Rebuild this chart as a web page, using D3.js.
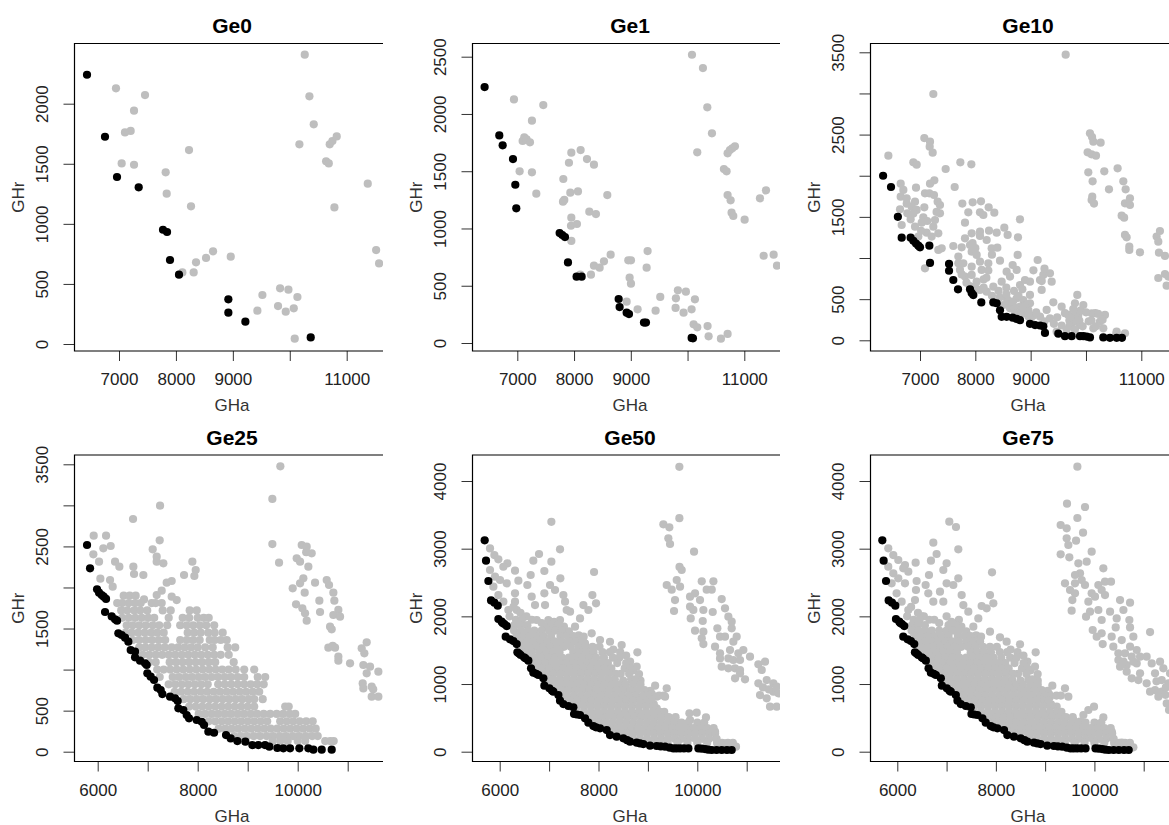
<!DOCTYPE html>
<html><head><meta charset="utf-8">
<script src="https://cdn.jsdelivr.net/npm/d3@7"></script>
<style>html,body{margin:0;padding:0;background:#fff}svg{display:block}text{font-family:"Liberation Sans",Arial,sans-serif}</style>
</head><body><svg id="c" width="1169" height="825"></svg>
<script>
const titles = ["Ge0","Ge1","Ge10","Ge25","Ge50","Ge75"];

const front0 = [[6438,2241],[6754,1725],[6965,1390],[7346,1304],[7773,951],[7844,932],[7896,699],[8054,577],[8921,372],[8921,261],[9220,186],[10368,55]];
const gray0 = [[6947,2128],[7457,2072],[7264,1942],[7205,1773],[7105,1761],[7047,1503],[7264,1492],[7820,1429],[8230,1614],[7838,1251],[8265,1146],[8652,771],[8529,716],[8353,680],[8312,596],[8113,596],[8963,727],[9519,408],[9431,277],[9830,463],[9976,452],[10134,391],[9794,316],[9929,269],[10070,297],[10087,44],[10169,1662],[10263,2408],[10345,2061],[10421,1828],[10638,1520],[10685,1503],[10702,1662],[10749,1689],[10825,1728],[10784,1137],[11370,1334],[11517,782],[11569,671]];

const front1 = [[6424,2235],[6683,1813],[6742,1726],[6924,1606],[6965,1382],[6982,1176],[7746,960],[7793,943],[7840,925],[7893,704],[8045,579],[8134,579],[8786,384],[8803,314],[8927,265],[8968,253],[9232,178],[9267,178],[10072,44],[10095,41]];
const gray1 = [[6941,2127],[7458,2078],[7258,1941],[7123,1796],[7094,1764],[7164,1778],[7223,1752],[7041,1499],[7258,1490],[7335,1304],[7952,1662],[7910,1574],[8116,1685],[8228,1606],[8351,1557],[7811,1432],[7828,1249],[7805,1234],[7934,1313],[8069,1324],[8586,1292],[8269,1147],[8386,1126],[7952,1094],[7946,1024],[8051,1039],[7952,891],[8645,771],[8527,713],[8351,675],[8451,658],[8298,597],[8110,597],[9296,803],[8956,722],[9003,722],[9279,658],[8979,570],[9003,518],[8927,361],[9120,294],[9519,402],[9437,282],[9830,460],[9971,448],[9795,390],[10130,381],[9789,306],[9930,265],[10071,294],[10107,163],[10171,137],[10353,148],[10371,58],[10588,38],[10706,79],[10078,2517],[10271,2401],[10348,2058],[10430,1831],[10171,1665],[10706,1656],[10747,1685],[10788,1700],[10835,1717],[10641,1519],[10688,1499],[10706,1292],[10759,1246],[10776,1138],[10806,1109],[11006,1077],[11276,1263],[11382,1333],[11341,762],[11517,771],[11576,675]];

const front10 = [[6333,2000],[6476,1863],[6600,1500],[6669,1247],[6831,1247],[6880,1210],[6928,1175],[6970,1150],[7000,1130],[7169,1150],[7181,940],[7525,928],[7525,845],[7602,733],[7687,620],[7904,620],[7934,575],[7964,550],[8108,460],[8325,460],[8386,450],[8446,365],[8476,285],[8566,285],[8675,275],[8747,260],[8807,245],[8988,200],[9080,185],[9169,180],[9229,170],[9259,90],[9500,80],[9620,50],[9741,50],[9892,50],[9952,50],[10012,45],[10072,35],[10313,35],[10433,30],[10554,30],[10650,30]];
const gray10 = [[9633,3471],[7241,2993],[6428,2244],[7078,2458],[7181,2414],[7175,2353],[7229,2280],[6880,2163],[6940,2134],[7464,2082],[7729,2163],[7928,2138],[7627,1863],[7259,1944],[7181,1904],[6651,1904],[6699,1827],[6651,1746],[6759,1725],[6928,1855],[7090,1786],[7169,1786],[7253,1766],[7319,1685],[7361,1644],[6910,1685],[6849,1624],[6940,1584],[7078,1616],[6639,1592],[6771,1543],[6831,1470],[7060,1495],[7030,1430],[6669,1401],[6910,1381],[7361,1543],[7271,1462],[7241,1381],[7331,1300],[7120,1308],[7211,1260],[6970,1260],[7331,1098],[7392,1118],[7090,875],[7602,1146],[7753,1130],[7813,1239],[7934,1300],[8084,1320],[8084,1268],[8247,1332],[8386,1308],[8524,1369],[8584,1280],[8771,1251],[8807,1470],[7765,1661],[7952,1677],[8102,1689],[8241,1616],[8343,1551],[7873,1555],[8084,1555],[8145,1523],[7813,1430],[8205,1219],[8295,1118],[8398,1126],[7904,1158],[7934,1077],[8024,1037],[8084,956],[8235,936],[8446,968],[8765,1037],[9127,976],[8675,915],[8747,855],[7693,1017],[7693,936],[7783,936],[7934,895],[8114,855],[8235,847],[7723,855],[7813,774],[7934,794],[8024,713],[8084,612],[8205,591],[8325,652],[8476,713],[8566,834],[8627,774],[8807,672],[8898,733],[8988,713],[9169,733],[9229,794],[9349,814],[9380,713],[9199,612],[8566,510],[8747,510],[8988,551],[8867,490],[8627,429],[8807,409],[8988,449],[8958,368],[8627,389],[8506,429],[9169,288],[9349,267],[9410,462],[9560,409],[9843,551],[9801,449],[9952,429],[10102,328],[10343,308],[10253,227],[9681,308],[9801,308],[9892,186],[9741,186],[10133,146],[10313,146],[10554,105],[10705,85],[9470,105],[9289,369],
[7753,800],[7840,700],[7900,660],[8000,640],[8150,740],[8300,540],[8420,600],[8560,640],[8700,600],[8850,620],[8600,480],[8700,400],[8900,330],[8800,330],[9050,300],[9100,340],[9250,230],[9700,240],[9770,260],[9830,230],[9860,300],[9900,360],[9770,380],[9700,170],[9800,130],[10000,340],[10170,330],[10220,320],[10300,250],[10180,170],[10550,80],[6760,1660],[6880,1540],[7020,1330],[7130,1450],[7300,1560],[7950,1180],[8000,1120],[8300,1040],[9050,850],[9250,870],[9200,720],
[8200,760],[8150,640],[8440,520],[8560,560],[8680,470],[8780,540],[8900,420],[8720,330],[8960,290],[8860,390],[9000,260],[9420,200],[9480,280],[9560,180],[9620,330],[9650,130],[9880,240],[9940,170],[10050,230],[10100,240],
[10072,2515],[10133,2414],[10265,2402],[10110,2470],[10030,2284],[10100,2260],[10181,2244],[10042,2041],[10331,2053],[10572,2090],[10120,1932],[10416,1835],[10675,1932],[10717,1835],[10114,1746],[10102,1705],[10145,1661],[10795,1725],[10705,1665],[10795,1644],[10645,1515],[10690,1490],[10705,1280],[10735,1251],[10783,1138],[10783,1098],[10976,1069],[11277,1260],[11337,1328],[11307,1199],[11319,1065],[11428,1025],[11307,757],[11428,806],[11488,774],[11458,664]];

const front25 = [[5787,2517],[5847,2233],[5987,1977],[6027,1937],[6080,1908],[6120,1888],[6167,1860],[6147,1701],[6280,1648],[6347,1612],[6387,1596],[6413,1441],[6480,1421],[6547,1389],[6613,1340],[6660,1238],[6747,1218],[6747,1149],[6847,1108],[6947,1076],[6980,1056],[6993,954],[7060,914],[7127,873],[7193,780],[7260,751],[7293,702],[7447,670],[7547,650],[7600,617],[7613,528],[7713,507],[7780,447],[7827,406],[7980,386],[8080,365],[8127,325],[8213,244],[8327,231],[8567,203],[8660,162],[8793,130],[8953,122],[9093,81],[9213,81],[9347,81],[9433,61],[9593,45],[9713,41],[9847,41],[10033,41],[10213,41],[10313,25],[10480,25],[10680,25]];
const gray25 = [[9653,3475],[9493,3078],[9493,2529],[9627,2302],[7247,2996],[6707,2834],[7240,2574],[5920,2631],[6167,2631],[6260,2505],[6113,2477],[5913,2404],[6027,2314],[6347,2314],[6433,2253],[6053,2107],[6247,2091],[6300,2010],[7100,2464],[7180,2375],[7180,2314],[7313,2294],[6713,2253],[6727,2164],[6913,2152],[7380,2058],[7480,2079],[7727,2152],[7893,2314],[7960,2213],[7933,2140],[7180,1908],[7280,1961],[6927,1855],[7480,1888],[7580,1847],
[10080,2517],[10180,2497],[10280,2416],[10170,2430],[9980,2355],[10047,2314],[10213,2253],[10113,2111],[10047,2050],[10347,2058],[9900,1989],[10580,2091],[10627,2030],[10140,1937],[10713,1937],[10433,1839],[10733,1839],[9967,1795],[10093,1746],[10147,1685],[10180,1596],[10447,1701],[10813,1726],[10713,1665],[10847,1644],[10647,1523],[10680,1490],[10613,1267],[10747,1267],[10700,1290],[10813,1157],[10813,1108],[11047,1076],[11380,1332],[11280,1259],[11333,1198],[11313,1056],[11447,1035],[11613,974],[11380,954],[11300,832],[11313,771],[11480,792],[11510,760],[11480,670],[11613,670]];
const rows25 = [
[1900,[6520,6640,6760]],
[1810,[6390,6490,6620,6750,6860,7080,7160,7280]],
[1720,[6470,6590,6730,6850,6990,7300,7460,7840,7980]],
[1630,[6490,6620,6750,6880,7010,7130,7420,7700,7830,8000,8120,8220]],
[1540,[6580,6700,6830,6960,7100,7230,7390,7650,7780,7910,8040,8170,8330]],
[1450,[6560,6680,6810,6940,7070,7190,7320,7800,7930,8060,8210,8340,8500]],
[1360,[6700,6830,6960,7090,7220,7350,7650,7780,7910,8040,8240,8340,8460,8580]],
[1270,[6830,6950,7080,7210,7340,7480,7610,7740,7870,8000,8150,8300,8600,8750]],
[1180,[6900,7030,7160,7290,7420,7550,7680,7810,7940,8070,8200,8330,8460,8620]],
[1090,[7030,7160,7440,7570,7700,7830,7960,8090,8220,8350,8720]],
[1000,[7190,7320,7450,7580,7710,7840,7970,8100,8230,8360,8490,8620,8760,8930,9130]],
[910,[7240,7500,7630,7760,7890,8020,8150,8280,8410,8540,8670,8800,8930,9200,9350]],
[820,[7420,7550,7680,7810,7940,8070,8200,8410,8540,8670,8800,8930,9060,9190,9320]],
[730,[7540,7670,7800,7930,8060,8190,8320,8450,8580,8710,8840,8970,9100,9230]],
[640,[7720,7850,7980,8110,8240,8370,8500,8630,8760,8890,9020,9130,9300]],
[550,[7830,7960,8090,8220,8350,8480,8610,8740,8870,9000,9130,9750,9820]],
[460,[8020,8150,8280,8410,8540,8670,8800,8930,9060,9190,9320,9450,9580,9710,9840,9950]],
[370,[8220,8350,8480,8610,8740,8870,9000,9130,9260,9390,9650,9780,9910,10040,10170,10300]],
[280,[8420,8550,8680,8810,8940,9070,9200,9330,9460,9590,9720,9850,9980,10110,10240,10360]],
[190,[8730,8860,8990,9120,9250,9380,9510,9640,9770,9900,10030,10160,10290,10400]],
[130,[9500,9650,9800,10000,10150,10550,10650,10720]]
];

const front50 = [[5696,3123],[5723,2823],[5771,2522],[5825,2236],[5892,2202],[5960,2158],[5973,1961],[6040,1921],[6094,1887],[6142,1857],[6121,1700],[6209,1660],[6277,1635],[6344,1591],[6358,1468],[6425,1429],[6493,1394],[6580,1345],[6634,1232],[6681,1167],[6783,1133],[6884,1084],[6904,975],[7005,936],[7086,887],[7188,837],[7221,754],[7289,704],[7390,675],[7491,655],[7505,557],[7626,542],[7727,493],[7795,429],[7896,379],[8031,345],[8166,320],[8233,246],[8368,222],[8503,197],[8638,148],[8773,133],[8908,113],[9043,89],[9178,84],[9347,74],[9516,49],[9651,49],[9820,49],[10022,49],[10157,39],[10292,25],[10494,25],[10696,25],[9260,78],[9440,60],[9580,49],[9730,49],[10090,45],[10220,30],[10390,25],[10600,25],[8580,170],[8840,122],[7950,360],[7560,550],[7060,900],[6740,1150],[6520,1380],[6390,1450],[6060,1900]];
const gray50 = [[9637,4210],[9637,3451],[7046,3397],[7221,2990],[6796,2921],[6681,2823],[7046,2808],[6904,2670],[6627,2611],[7228,2562],[6560,2463],[6378,2527],[6310,2675],[7910,2655],[7876,2315],[7950,2192],[7795,2094],[7694,2167],[7626,1970],[7525,1847],[7424,2069],[7323,2217],[7289,2315],[7120,2389],[7019,2463],[6904,2340],[6918,2167],[6715,2167],[6647,2291],[5804,3004],[5892,2906],[5973,2842],[6155,2783],[6074,2733],[5804,2685],[5905,2586],[6007,2537],[6142,2488],[5872,2438],[5973,2315],[6074,2217],[6310,2340],[6310,2217],[6344,2094],[6175,2094],[6749,1946],[6985,1946],[7221,1946],[7356,2094],[6952,1847],[7154,1798],[7491,1650],[7727,1601],[7862,1749],[8031,1650],[8233,1625],[8469,1576],[8787,1468],[8773,1256],[8820,1148],[9146,975],[9381,936],[9178,813],[9347,813],[9178,640],[9840,567],[9988,576],[10176,507],[9853,468],[10090,394],[10359,296],[10561,123],[10784,74],
[9313,3360],[9434,3315],[9414,3153],[9448,3069],[9934,2955],[9684,2685],[9640,2730],[9381,2463],[9583,2537],[9482,2394],[9651,2438],[9549,2241],[9529,2079],[9954,2340],[9853,2291],[10090,2517],[10326,2517],[10190,2394],[10292,2394],[10055,2241],[9853,2143],[9920,2095],[10123,2094],[10312,2064],[9867,1970],[10110,1931],[9954,1788],[10123,1773],[10090,1675],[10123,1591],[10494,2256],[10561,2118],[10629,1995],[10696,1921],[10696,1823],[10406,1823],[10460,1700],[10561,1700],[10797,1700],[10730,1626],[10359,1552],[10662,1503],[10932,1503],[11067,1404],[10460,1453],[10460,1379],[10831,1453],[10629,1379],[10730,1355],[10865,1355],[10494,1256],[10629,1232],[10764,1232],[10865,1207],[10764,1084],[10966,1069],[10865,1158],[11236,1291],[11371,1330],[11304,1207],[11236,1010],[11405,1059],[11540,1010],[11607,961],[11270,837],[11405,788],[11472,665],[11607,665],[11540,887],[11641,862],[11330,950],[11450,920]];
const edge50 = [[8300,1510],[8440,1470],[8560,1420],[8640,1330],[8700,1200],[8760,1050],[8850,1050],[8920,820],[9050,900],[9080,850],[9120,700],[8450,1150],[8500,1050],[6200,2000],[6280,2140],[6420,2050],[6540,2000],[6650,1950],[6850,1900],[7100,1920],[7300,1850],[7400,1780],[7600,1720],[7700,1700]];
const rows50 = [
[1950,[6330,6450]],
[1870,[6300,6420,6560,7040,7180]],
[1790,[6290,6430,6570,6700,6850,7000,7130,7260]],
[1710,[6340,6480,6610,6750,6890,7040,7230,7370,7490]],
[1630,[6430,6560,6700,6830,6970,7110,7250,7400,7540,7680]],
[1550,[6470,6610,6750,6880,7020,7160,7300,7440,7590,7740,7880,8020]],
[1470,[6520,6650,6800,6940,7080,7210,7490,7620,7760,7900,8080,8230]],
[1390,[6570,6700,6840,6980,7120,7260,7400,7530,7670,7810,7950,8110,8290,8420]],
[1310,[6650,6790,6930,7070,7210,7350,7490,7630,7770,7910,8050,8190,8380,8560]],
[1230,[6720,6860,7000,7140,7280,7420,7560,7700,7840,7980,8120,8260,8530,8640]],
[1150,[6810,6950,7090,7230,7370,7510,7650,7790,7930,8070,8210,8350,8620]],
[1070,[6930,7070,7210,7350,7490,7630,7770,7910,8050,8190,8330,8660,8740]],
[990,[7010,7150,7290,7430,7570,7710,7850,7990,8130,8270,8410,8550,8700,8850]],
[910,[7110,7250,7390,7530,7670,7810,7950,8090,8230,8370,8510,8650,8790,8930]],
[830,[7220,7360,7500,7640,7780,7920,8060,8200,8340,8480,8620,8760,8900,9000,9230,9320]],
[750,[7300,7440,7580,7720,7860,8000,8140,8280,8420,8560,8700,8840,8980,9070]],
[670,[7420,7560,7700,7840,7980,8120,8260,8400,8540,8680,8820,8960,9100]],
[590,[7560,7700,7840,7980,8120,8260,8400,8540,8680,8820,8960,9100,9240,9330]],
[510,[7740,7880,8020,8160,8300,8440,8580,8720,8860,9000,9140,9280,9420,9560]],
[430,[7860,8000,8140,8280,8420,8560,8700,8840,8980,9120,9260,9400,9540,9680,9820,10000,10140]],
[350,[8100,8240,8380,8520,8660,8800,8940,9080,9220,9360,9500,9640,9780,9920,10060,10200,10330]],
[270,[8280,8420,8560,8700,8840,8980,9120,9260,9400,9540,9680,9820,9960,10100,10240,10360]],
[190,[8560,8700,8840,8980,9120,9260,9400,9540,9680,9820,9960,10100,10240,10390]],
[130,[8900,9050,9200,9400,9600,9800,10000,10200,10400,10500,10620,10720]]
];
const gray75 = [[9654,4212],[9444,3665],[9809,3616],[9654,3453],[7055,3399],[7191,3320],[9315,3350],[9437,3300],[9769,3236],[6731,3089],[9627,3118],[9437,3153],[9471,3054],[7238,2990],[9315,2916],[9944,2956],[6798,2921],[9491,2872],[6372,2793],[6156,2759],[6683,2823],[7001,2783],[6934,2685],[9843,2808],[10181,2709],[9674,2783],[9708,2636],[9606,2611],[7922,2650],[6643,2611],[7238,2562],[6575,2463],[6392,2522],[9742,2537],[9403,2488],[9606,2488],[9809,2463],[9505,2389],[9606,2340],[9552,2241],[9538,2084],[7881,2315],[7949,2192],[7813,2118],[7712,2153],[7644,1970],[7543,1847],[7441,2069],[7340,2167],[7306,2315],[7137,2463],[7001,2488],[6866,2365],[6934,2217],[6731,2217],[6629,2340],[6379,2389],[6359,2241],[5817,3005],[5919,2906],[6020,2833],[6122,2709],[6223,2660],[5817,2734],[5919,2636],[6020,2562],[6156,2488],[5885,2488],[5986,2340],[6088,2217],[6223,2094],[6500,2000],[6750,1950],[7000,2000],[7250,1950],
[9944,2340],[9877,2217],[9911,2069],[9830,1995],[10080,2463],[10215,2512],[10337,2512],[10147,2389],[10215,2315],[10012,2291],[10080,2094],[10147,1946],[10317,2069],[10452,1970],[10520,2241],[10588,2094],[10723,2202],[10709,1946],[10723,1837],[10432,1837],[9965,1798],[10147,1749],[10046,1700],[10168,1591],[10350,1700],[10554,1650],[10790,1700],[11129,1768],[10384,1552],[10723,1552],[10486,1453],[10858,1503],[11060,1404],[10486,1355],[10621,1453],[10757,1404],[10926,1404],[10520,1256],[10655,1281],[10858,1305],[10655,1182],[10926,1158],[10757,1084],[10892,1059],[11163,1305],[11332,1330],[11399,1232],[11230,1158],[11060,1010],[11230,911],[11366,887],[11467,714],[11501,1010],[11298,813],[11535,1158],[11366,1059],[11129,887],[11440,840],[11514,616],[10590,1330],[10790,1330],[11260,1040],[11450,950],
[8808,1468],[8794,1256],[8848,1148],[9146,975],[9403,936],[9471,813],[9099,813],[9234,665],[8490,1586],[8219,1626],[8084,1690],[7881,1773],[10181,507],[9992,665],[9877,616],[9776,542],[9708,443],[9573,468],[10350,296],[10554,133],[10790,64]];

const flatten = rows => rows.flatMap(([r, as]) => as.map(a => [a, r]));
const ticksX1 = [7000,8000,9000,10000,11000];
const labelsX1 = [7000,8000,9000,11000];
const ticksX2 = [6000,7000,8000,9000,10000,11000];
const labelsX2 = [6000,8000,10000];
const ticksYa = [0,500,1000,1500,2000];
const ticksYb = [0,500,1000,1500,2000,2500];
const ticksYc = [0,500,1000,1500,2000,2500,3000,3500];
const labelsYc = [0,500,1500,2500,3500];
const ticksYd = [0,1000,2000,3000,4000];

const frame = [
 {l:74.5,r:383,t:43.5,b:351,cx:232,ax:[7000,11000],px:[119,346.7],ay:[0,2000],py:[344,103.7],tx:ticksX1,lx:labelsX1,ty:ticksYa,ly:ticksYa,ttlY:25,lblY:383,nameY:405.5},
 {l:472.5,r:780,t:43.5,b:351,cx:630,ax:[7000,11000],px:[517.3,744.3],ay:[0,2500],py:[343,56.7],tx:ticksX1,lx:labelsX1,ty:ticksYb,ly:ticksYb,ttlY:25,lblY:383,nameY:405.5},
 {l:870.5,r:1169,t:43.5,b:351,cx:1028,ax:[7000,11000],px:[920,1141.3],ay:[0,3500],py:[340.3,52.3],tx:ticksX1,lx:labelsX1,ty:ticksYc,ly:labelsYc,ttlY:25,lblY:383,nameY:405.5},
 {l:74.5,r:383,t:455,b:761.5,cx:232,ax:[6000,11000],px:[97.7,347.7],ay:[0,3500],py:[751.7,464.3],tx:ticksX2,lx:labelsX2,ty:ticksYc,ly:labelsYc,ttlY:437,lblY:794,nameY:816.5},
 {l:472.5,r:780,t:455,b:761.5,cx:630,ax:[6000,11000],px:[499.7,746.7],ay:[0,4000],py:[751.7,481],tx:ticksX2,lx:labelsX2,ty:ticksYd,ly:ticksYd,ttlY:437,lblY:794,nameY:816.5},
 {l:870.5,r:1169,t:455,b:761.5,cx:1028,ax:[6000,11000],px:[897.3,1143.7],ay:[0,4000],py:[751.7,481],tx:ticksX2,lx:labelsX2,ty:ticksYd,ly:ticksYd,ttlY:437,lblY:794,nameY:816.5}
];
const grayPts = [gray0, gray1, gray10, gray25.concat(flatten(rows25)), gray50.concat(edge50, flatten(rows50)), gray75.concat(edge50, flatten(rows50))];
const blackPts = [front0, front1, front10, front25, front50, front50];

const svg = d3.select("#c");
const defs = svg.append("defs");
titles.forEach((name, i) => {
  const f = frame[i];
  const x = d3.scaleLinear().domain(f.ax).range(f.px);
  const y = d3.scaleLinear().domain(f.ay).range(f.py);
  const g = svg.append("g");
  defs.append("clipPath").attr("id", "clip" + i).append("rect")
    .attr("x", f.l).attr("y", f.t).attr("width", f.r - f.l).attr("height", f.b - f.t);
  const pts = g.append("g").attr("clip-path", `url(#clip${i})`);
  pts.selectAll("circle.g").data(grayPts[i]).join("circle").attr("class", "g")
    .attr("cx", d => x(d[0])).attr("cy", d => y(d[1])).attr("r", 4.1).attr("fill", "#bebebe");
  pts.selectAll("circle.k").data(blackPts[i]).join("circle").attr("class", "k")
    .attr("cx", d => x(d[0])).attr("cy", d => y(d[1])).attr("r", 4.1).attr("fill", "#000");

  const ax = d3.axisBottom(x).tickValues(f.tx).tickSize(10).tickPadding(12)
    .tickFormat(v => f.lx.includes(v) ? String(v) : "");
  const axG = g.append("g").attr("transform", `translate(0,${f.b})`).call(ax);
  axG.select(".domain").remove();
  axG.selectAll("text").attr("font-size", 17).attr("fill", "#222");
  axG.selectAll("line").attr("stroke", "#333");

  const ay = d3.axisLeft(y).tickValues(f.ty).tickSize(11).tickPadding(0)
    .tickFormat(v => f.ly.includes(v) ? String(v) : "");
  const ayG = g.append("g").attr("transform", `translate(${f.l},0)`).call(ay);
  ayG.select(".domain").remove();
  ayG.selectAll("line").attr("stroke", "#333");
  ayG.selectAll("text").attr("font-size", 17).attr("fill", "#222")
    .attr("dy", null).attr("x", null).attr("text-anchor", "middle")
    .attr("dominant-baseline", "central")
    .attr("transform", "translate(-32.5,0) rotate(-90)");

  g.append("path").attr("fill", "none").attr("stroke", "#000").attr("stroke-width", 1.2)
    .attr("d", `M${f.r},${f.t}H${f.l}V${f.b}H${f.r}`);

  g.append("text").attr("x", f.cx).attr("y", f.ttlY).attr("text-anchor", "middle")
    .attr("dominant-baseline", "central").attr("font-weight", "bold").attr("font-size", 21).attr("fill", "#000").text(name);
  g.append("text").attr("x", f.cx).attr("y", f.nameY).attr("text-anchor", "middle")
    .attr("dominant-baseline", "central").attr("font-size", 17).attr("fill", "#333").text("GHa");
  g.append("text").attr("text-anchor", "middle").attr("dominant-baseline", "central")
    .attr("transform", `translate(${f.l - 56},${(f.t + f.b) / 2}) rotate(-90)`)
    .attr("font-size", 17).attr("fill", "#333").text("GHr");
});
</script></body></html>
